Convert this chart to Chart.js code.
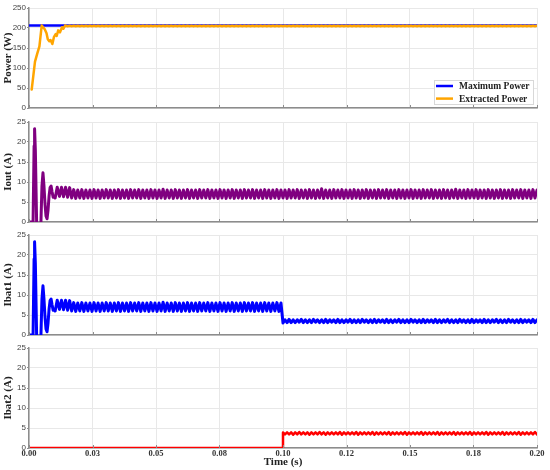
<!DOCTYPE html>
<html>
<head>
<meta charset="utf-8">
<script src="https://cdn.jsdelivr.net/npm/chart.js@4.4.1/dist/chart.umd.min.js"></script>
<style>
  html, body { margin: 0; padding: 0; background: #ffffff; }
  #wrap { position: relative; width: 550px; height: 470px; overflow: hidden; background: #fff; }
  canvas { position: absolute; left: 0; }
</style>
</head>
<body>
<div id="wrap">
  <canvas id="c1" width="550" height="114" style="top:0px"></canvas>
  <canvas id="c2" width="550" height="114" style="top:114px"></canvas>
  <canvas id="c3" width="550" height="114" style="top:227px"></canvas>
  <canvas id="c4" width="550" height="130" style="top:340px"></canvas>
</div>
<script>
// ---------------- DATA ----------------
const xTickValues = [0, 0.025, 0.05, 0.075, 0.1, 0.125, 0.15, 0.175, 0.2];
const xTickLabels = ['0.00', '0.03', '0.05', '0.08', '0.10', '0.12', '0.15', '0.18', '0.20'];
const powerTicks = [0, 50, 100, 150, 200, 250];
const currentTicks = [0, 5, 10, 15, 20, 25];

// steady ripple samples: sample k sits at RIPPLE_T0 + k * RIPPLE_DT (peaks / troughs)
const RIPPLE_T0 = 0.012;
const RIPPLE_DT = 0.0008;

// Power (W)
const maxPowerTime = [0, 0.2];
const maxPower = [206, 206];
const extractedTransientTime = [0.00106, 0.00236, 0.0033, 0.0041, 0.005, 0.0062, 0.0069, 0.0074, 0.008, 0.0085, 0.0092, 0.0098, 0.0105, 0.0109, 0.0115, 0.0122, 0.013, 0.0135, 0.0142];
const extractedTransient = [46, 116, 137, 154, 206, 197, 187, 172, 167, 170, 160, 177, 185, 180, 194, 189, 202, 198, 206];
const extractedRippleStart = 3; // ripple index of first value
const extractedRipple = [
  205.7, 204.5, 205.6, 204.6, 205.7, 204.5, 205.6, 204.5, 205.7, 204.6, 205.6, 204.5, 205.7, 204.5, 205.6, 204.6, 205.7, 204.5, 205.6, 204.5,
  205.7, 204.6, 205.6, 204.5, 205.7, 204.5, 205.6, 204.6, 205.7, 204.5, 205.6, 204.5, 205.7, 204.6, 205.6, 204.5, 205.7, 204.5, 205.6, 204.6,
  205.7, 204.5, 205.6, 204.5, 205.7, 204.6, 205.6, 204.5, 205.7, 204.5, 205.6, 204.6, 205.7, 204.5, 205.6, 204.5, 205.7, 204.6, 205.6, 204.5,
  205.7, 204.5, 205.6, 204.6, 205.7, 204.5, 205.6, 204.5, 205.7, 204.6, 205.6, 204.5, 205.7, 204.5, 205.6, 204.6, 205.7, 204.5, 205.6, 204.5,
  205.7, 204.6, 205.6, 204.5, 205.7, 204.5, 205.6, 204.6, 205.7, 204.5, 205.6, 204.5, 205.7, 204.6, 205.6, 204.5, 205.7, 204.5, 205.6, 204.6,
  205.7, 204.5, 205.6, 204.5, 205.7, 204.6, 205.6, 204.5, 205.7, 204.5, 205.6, 204.6, 205.7, 204.5, 205.6, 204.5, 205.7, 204.6, 205.6, 204.5,
  205.7, 204.5, 205.6, 204.6, 205.7, 204.5, 205.6, 204.5, 205.7, 204.6, 205.6, 204.5, 205.7, 204.5, 205.6, 204.6, 205.7, 204.5, 205.6, 204.5,
  205.7, 204.6, 205.6, 204.5, 205.7, 204.5, 205.6, 204.6, 205.7, 204.5, 205.6, 204.5, 205.7, 204.6, 205.6, 204.5, 205.7, 204.5, 205.6, 204.6,
  205.7, 204.5, 205.6, 204.5, 205.7, 204.6, 205.6, 204.5, 205.7, 204.5, 205.6, 204.6, 205.7, 204.5, 205.6, 204.5, 205.7, 204.6, 205.6, 204.5,
  205.7, 204.5, 205.6, 204.6, 205.7, 204.5, 205.6, 204.5, 205.7, 204.6, 205.6, 204.5, 205.7, 204.5, 205.6, 204.6, 205.7, 204.5, 205.6, 204.5,
  205.7, 204.6, 205.6, 204.5, 205.7, 204.5, 205.6, 204.6, 205.7, 204.5, 205.6, 204.5, 205.7, 204.6, 205.6, 204.5, 205.7, 204.5, 205.6, 204.6,
  205.7, 204.5, 205.6, 204.5, 205.7, 204.6, 205.6, 204.5, 205.7, 204.5, 205.6, 204.6, 205.7
];

// Iout (A) - Ibat1 follows the same trace until the switch at 0.10 s
const ioutTransientTime = [0, 0.0016, 0.0020, 0.0022, 0.0025, 0.0030, 0.0038, 0.0047, 0.0051, 0.0055, 0.0059, 0.0063, 0.0067, 0.0071, 0.0075, 0.0079, 0.0083, 0.0087, 0.0091, 0.0095, 0.0099, 0.0103, 0.0111];
const ioutTransient = [0, 0, 19, 23.3, 18, 0, -8, 0, 9, 12.3, 9, 4.5, 1.5, 0.8, 3, 6.5, 8.6, 9.0, 7.5, 6.2, 6.5, 6.0, 8.7];
const ioutRipple = [
  6.4, 8.7, 6.3, 8.7, 6.2, 8.6, 6.0, 8.1, 5.9, 8.0, 6.0, 8.1, 5.9, 8.0, 6.0, 8.0, 5.9, 8.1, 6.0, 8.0,
  5.9, 8.0, 6.0, 8.1, 6.0, 8.0, 5.9, 8.0, 6.0, 8.1, 5.9, 8.0, 6.0, 8.0, 5.9, 8.1, 6.0, 8.0, 6.0, 8.1,
  5.9, 8.0, 6.0, 8.0, 5.9, 8.1, 6.0, 8.0, 5.9, 8.0, 6.0, 8.2, 5.9, 8.0, 6.0, 8.0, 5.9, 8.1, 6.0, 8.0,
  5.9, 8.0, 6.0, 8.1, 5.9, 8.0, 6.0, 8.0, 5.9, 8.1, 6.0, 8.0, 6.0, 8.1, 5.9, 8.0, 6.0, 8.0, 5.9, 8.1,
  6.0, 8.0, 5.9, 8.0, 6.0, 8.1, 5.9, 8.0, 6.0, 8.0, 5.9, 8.1, 6.0, 8.0, 6.0, 8.1, 5.9, 8.0, 6.0, 8.0,
  5.9, 8.1, 6.0, 8.0, 5.9, 8.0, 6.0, 8.1, 5.9, 8.0, 6.0, 8.0, 5.9, 8.1, 6.0, 8.0, 6.0, 8.1, 5.9, 8.0,
  6.0, 8.0, 5.9, 8.1, 6.0, 8.0, 5.9, 8.0, 6.0, 8.3, 5.9, 8.0, 6.0, 8.0, 5.9, 8.1, 6.0, 8.0, 6.0, 8.1,
  5.9, 8.0, 6.0, 8.0, 5.9, 8.1, 6.0, 8.0, 5.9, 8.0, 6.0, 8.1, 5.9, 8.0, 6.0, 8.0, 5.9, 8.1, 6.0, 8.0,
  6.0, 8.1, 5.9, 8.0, 6.0, 8.0, 5.9, 8.1, 6.0, 8.0, 5.9, 8.0, 6.0, 8.1, 5.9, 8.0, 6.0, 8.0, 5.9, 8.1,
  6.0, 8.0, 6.0, 8.1, 5.9, 8.0, 6.0, 8.0, 5.9, 8.1, 6.0, 8.0, 5.9, 8.0, 6.0, 8.2, 5.9, 8.0, 6.0, 8.0,
  5.9, 8.1, 6.0, 8.0, 6.0, 8.1, 5.9, 8.0, 6.0, 8.0, 5.9, 8.1, 6.0, 8.0, 5.9, 8.0, 6.0, 8.1, 5.9, 8.0,
  6.0, 8.0, 5.9, 8.1, 6.0, 8.0, 6.0, 8.1, 5.9, 8.0, 6.0, 8.0, 5.9, 8.1, 6.0, 8.0
];
const SWITCH_INDEX = 110; // ripple index at t = 0.10 s

// Ibat1 after the switch (from ripple index 110)
const ibat1After = [
  3.0, 3.8, 3.1, 3.9, 3.1, 3.8, 3.1, 3.8, 3.2, 3.9, 3.1, 3.8, 3.1, 3.8, 3.1, 3.9, 3.2, 3.8, 3.1, 3.8,
  3.1, 3.9, 3.1, 3.8, 3.2, 3.8, 3.1, 3.9, 3.1, 3.8, 3.1, 3.8, 3.2, 3.9, 3.1, 3.8, 3.1, 3.8, 3.1, 3.9,
  3.2, 3.8, 3.1, 3.8, 3.1, 3.9, 3.1, 3.8, 3.2, 3.8, 3.1, 3.9, 3.1, 3.8, 3.1, 3.8, 3.2, 3.9, 3.1, 3.8,
  3.1, 3.8, 3.1, 3.9, 3.2, 3.8, 3.1, 3.8, 3.1, 3.9, 3.1, 3.8, 3.2, 3.8, 3.1, 3.9, 3.1, 3.8, 3.1, 3.8,
  3.2, 3.9, 3.1, 3.8, 3.1, 3.8, 3.1, 3.9, 3.2, 3.8, 3.1, 3.8, 3.1, 3.9, 3.1, 3.8, 3.2, 3.8, 3.1, 3.9,
  3.1, 3.8, 3.1, 3.8, 3.2, 3.9, 3.1, 3.8, 3.1, 3.8, 3.1, 3.9, 3.2, 3.8, 3.1, 3.8, 3.1, 3.9, 3.1, 3.8,
  3.2, 3.8, 3.1, 3.9, 3.1, 3.8
];

// Ibat2: zero until the switch, then ripple from ripple index 110
const ibat2BeforeTime = [0, 0.1];
const ibat2Before = [0, 0];
const ibat2After = [
  3.9, 3.4, 3.9, 3.4, 3.9, 3.3, 3.9, 3.4, 4.0, 3.4, 3.9, 3.4, 3.9, 3.3, 3.9, 3.4, 3.9, 3.4, 4.0, 3.4,
  3.9, 3.3, 3.9, 3.4, 3.9, 3.4, 3.9, 3.4, 4.0, 3.3, 3.9, 3.4, 3.9, 3.4, 3.9, 3.4, 4.0, 3.3, 3.9, 3.4,
  3.9, 3.4, 3.9, 3.4, 4.0, 3.3, 3.9, 3.4, 3.9, 3.4, 3.9, 3.4, 4.0, 3.3, 3.9, 3.4, 3.9, 3.4, 3.9, 3.4,
  4.0, 3.3, 3.9, 3.4, 3.9, 3.4, 3.9, 3.4, 4.0, 3.3, 3.9, 3.4, 3.9, 3.4, 3.9, 3.4, 4.0, 3.3, 3.9, 3.4,
  3.9, 3.4, 3.9, 3.4, 4.0, 3.3, 3.9, 3.4, 3.9, 3.4, 3.9, 3.4, 4.0, 3.3, 3.9, 3.4, 3.9, 3.4, 3.9, 3.4,
  4.0, 3.3, 3.9, 3.4, 3.9, 3.4, 3.9, 3.4, 4.0, 3.3, 3.9, 3.4, 3.9, 3.4, 3.9, 3.4, 4.0, 3.3, 3.9, 3.4,
  3.9, 3.4, 3.9, 3.4, 4.0, 3.4
];

// ---------------- BUILD ----------------
function pts(times, values) { return values.map((v, i) => ({ x: times[i], y: v })); }
function ripplePts(values, startIndex) {
  return values.map((v, i) => ({ x: RIPPLE_T0 + (startIndex + i) * RIPPLE_DT, y: v }));
}

const BLUE = '#0000ff', ORANGE = '#ffa500', PURPLE = '#800080', RED = '#ff0000';
const AXIS_GRAY = '#8c8c8c', GRID = '#e8e8e8';
const SERIF = '"Liberation Serif", "Times New Roman", serif';
const SANS = '"Liberation Sans", Arial, sans-serif';

const insideLegend = {
  id: 'insideLegend',
  afterDraw(chart) {
    const { ctx, chartArea } = chart;
    const w = 99, h = 24;
    const x = Math.round(chartArea.right - 4 - w), y = Math.round(chartArea.bottom - 4 - h);
    ctx.save();
    ctx.fillStyle = '#ffffff';
    ctx.fillRect(x, y, w, h);
    ctx.strokeStyle = '#d8d8d8';
    ctx.lineWidth = 1;
    ctx.strokeRect(x + 0.5, y + 0.5, w, h);
    ctx.font = 'bold 9.5px ' + SERIF;
    ctx.textBaseline = 'middle';
    ctx.textAlign = 'left';
    chart.data.datasets.forEach((ds, i) => {
      const cy = y + 6 + i * 12.6;
      ctx.strokeStyle = ds.borderColor;
      ctx.lineWidth = 2.5;
      ctx.beginPath(); ctx.moveTo(x + 2, cy); ctx.lineTo(x + 19, cy); ctx.stroke();
      ctx.fillStyle = '#222';
      ctx.fillText(ds.label, x + 25, cy + 0.5);
    });
    ctx.restore();
  }
};

const innerTicks = {
  id: 'innerTicks',
  afterDraw(chart) {
    const { ctx, chartArea } = chart;
    const xs = chart.scales.x;
    ctx.save();
    ctx.strokeStyle = AXIS_GRAY;
    ctx.lineWidth = 1;
    xs.ticks.forEach(t => {
      const px = Math.round(xs.getPixelForValue(t.value)) + 0.5;
      ctx.beginPath(); ctx.moveTo(px, chartArea.bottom); ctx.lineTo(px, chartArea.bottom - 3); ctx.stroke();
    });
    ctx.restore();
  }
};

function makePanel(id, datasets, yTicks, yTitle, isBottom, canvasH, plugins) {
  const yMax = yTicks[yTicks.length - 1];
  return new Chart(document.getElementById(id), {
    type: 'line',
    data: { datasets },
    plugins: plugins || [],
    options: {
      responsive: false,
      animation: false,
      devicePixelRatio: 1,
      parsing: false,
      layout: { padding: { top: 8, right: 13, left: 0, bottom: 0 } },
      plugins: { legend: { display: false }, tooltip: { enabled: false } },
      elements: { point: { radius: 0 }, line: { tension: 0, borderJoinStyle: 'round', borderCapStyle: 'round' } },
      scales: {
        x: {
          type: 'linear', min: 0, max: 0.2,
          afterBuildTicks: s => { s.ticks = xTickValues.map(v => ({ value: v })); },
          afterFit: s => { s.height = canvasH - 8 - 100; },
          grid: { color: GRID, lineWidth: 1, drawTicks: false },
          border: { display: true, color: AXIS_GRAY, width: 1.5 },
          ticks: {
            display: isBottom, autoSkip: false, maxRotation: 0, padding: 1,
            color: '#333', font: { family: SERIF, size: 8.5, weight: 'bold' },
            callback: (v, i) => xTickLabels[i]
          },
          title: {
            display: isBottom, text: 'Time (s)', color: '#222',
            font: { family: SERIF, size: 11, weight: 'bold' },
            padding: { top: 0, bottom: 1 }
          }
        },
        y: {
          min: 0, max: yMax,
          afterBuildTicks: s => { s.ticks = yTicks.map(v => ({ value: v })); },
          afterFit: s => { s.width = 29; },
          grid: { color: GRID, lineWidth: 1, drawTicks: true, tickLength: 2, tickColor: AXIS_GRAY },
          border: { display: true, color: AXIS_GRAY, width: 1.5 },
          ticks: { padding: 1, color: '#444', font: { family: SANS, size: 8 } },
          title: {
            display: true, text: yTitle, color: '#222',
            font: { family: SERIF, size: 11, weight: 'bold' },
            padding: { top: 2, bottom: 0 }
          }
        }
      }
    }
  });
}

// Panel 1: power
makePanel('c1', [
  { label: 'Maximum Power', data: pts(maxPowerTime, maxPower), borderColor: BLUE, borderWidth: 2.5, order: 2 },
  { label: 'Extracted Power',
    data: pts(extractedTransientTime, extractedTransient).concat(ripplePts(extractedRipple, extractedRippleStart)),
    borderColor: ORANGE, borderWidth: 2.5, order: 1 }
], powerTicks, 'Power (W)', false, 114, [insideLegend, innerTicks]);

// Panel 2: Iout
makePanel('c2', [
  { label: 'Iout', data: pts(ioutTransientTime, ioutTransient).concat(ripplePts(ioutRipple, 0)),
    borderColor: PURPLE, borderWidth: 3 }
], currentTicks, 'Iout (A)', false, 114, [innerTicks]);

// Panel 3: Ibat1
makePanel('c3', [
  { label: 'Ibat1',
    data: pts(ioutTransientTime, ioutTransient)
      .concat(ripplePts(ioutRipple.slice(0, SWITCH_INDEX), 0))
      .concat(ripplePts(ibat1After, SWITCH_INDEX)),
    borderColor: BLUE, borderWidth: 3 }
], currentTicks, 'Ibat1 (A)', false, 114, [innerTicks]);

// Panel 4: Ibat2
makePanel('c4', [
  { label: 'Ibat2',
    data: pts(ibat2BeforeTime, ibat2Before).concat(ripplePts(ibat2After, SWITCH_INDEX)),
    borderColor: RED, borderWidth: 2.5 }
], currentTicks, 'Ibat2 (A)', true, 130, [innerTicks]);
</script>
</body>
</html>
